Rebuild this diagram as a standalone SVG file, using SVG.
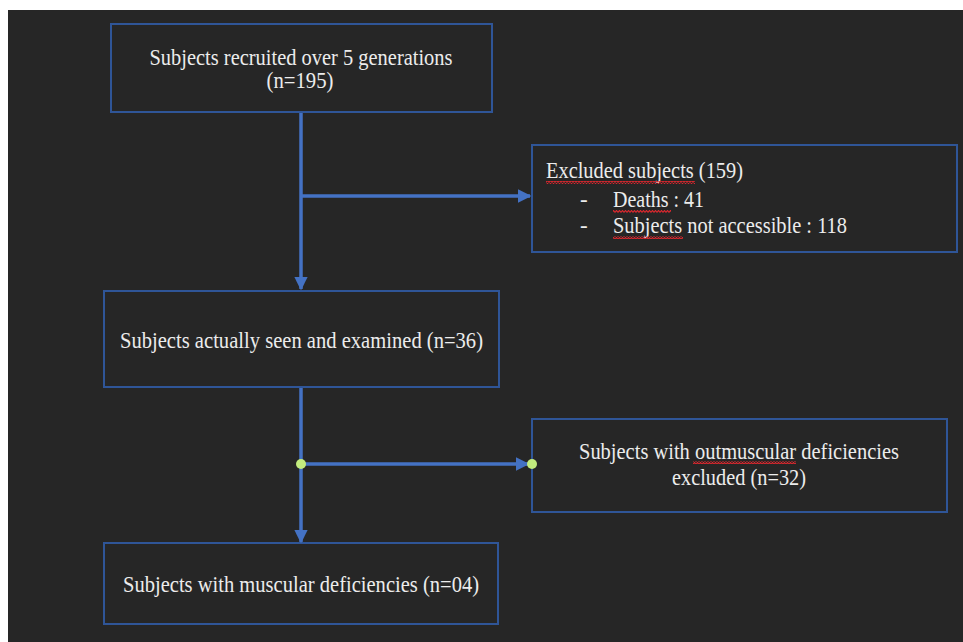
<svg xmlns="http://www.w3.org/2000/svg" width="963" height="642" viewBox="0 0 963 642">
<defs>
<style>
.box{fill:#262626;stroke:#2f5597;stroke-width:2}
.t{font-family:"Liberation Serif","Times New Roman",serif;font-size:23px;fill:#ececec}
.c{text-anchor:middle}
.ln{stroke:#4472c4;stroke-width:3.5;fill:none}
.dot{fill:#c2ec7e}
.wave{fill:url(#wv)}
</style>
<marker id="ah" viewBox="0 0 10 10" refX="9" refY="5" markerWidth="3.8" markerHeight="3.8" orient="auto" markerUnits="strokeWidth">
<path d="M0,0 L10,5 L0,10 Z" fill="#4472c4"/>
</marker>
<pattern id="wv" x="0" y="0" width="3" height="3" patternUnits="userSpaceOnUse">
<path d="M0,2.5 L1.5,0.5 L3,2.5" fill="none" stroke="#e0262d" stroke-width="1.1"/>
</pattern>
</defs>
<rect x="0" y="0" width="963" height="642" fill="#ffffff"/>
<rect x="8" y="10" width="955" height="632" fill="#262626"/>

<g id="n1">
<rect class="box" x="111" y="24" width="381" height="88"/>
<text class="t c" x="301" y="65" textLength="303" lengthAdjust="spacingAndGlyphs">Subjects recruited over 5 generations</text>
<text class="t c" x="300" y="88" textLength="67" lengthAdjust="spacingAndGlyphs">(n=195)</text>
</g>

<g id="n2">
<rect class="box" x="532" y="145" width="425" height="107"/>
<text class="t" x="546" y="178" textLength="197" lengthAdjust="spacingAndGlyphs">Excluded subjects (159)</text>
<text class="t" x="580" y="207">-</text>
<text class="t" x="613" y="207" textLength="91" lengthAdjust="spacingAndGlyphs">Deaths : 41</text>
<text class="t" x="580" y="233">-</text>
<text class="t" x="613" y="233" textLength="234" lengthAdjust="spacingAndGlyphs">Subjects not accessible : 118</text>
<rect class="wave" x="546" y="181" width="149" height="3"/>
<rect class="wave" x="613" y="210" width="58" height="3"/>
<rect class="wave" x="613" y="236" width="70" height="3"/>
</g>

<g id="n3">
<rect class="box" x="104" y="291" width="395" height="96"/>
<text class="t c" x="301.5" y="348" textLength="363" lengthAdjust="spacingAndGlyphs">Subjects actually seen and examined (n=36)</text>
</g>

<g id="n4">
<rect class="box" x="532" y="419" width="415" height="93"/>
<text class="t c" x="739" y="459" textLength="320" lengthAdjust="spacingAndGlyphs">Subjects with outmuscular deficiencies</text>
<text class="t c" x="739" y="485" textLength="134" lengthAdjust="spacingAndGlyphs">excluded (n=32)</text>
<rect class="wave" x="693" y="461" width="103" height="3"/>
</g>

<g id="n5">
<rect class="box" x="104" y="543" width="394" height="81"/>
<text class="t c" x="301" y="592" textLength="356" lengthAdjust="spacingAndGlyphs">Subjects with muscular deficiencies (n=04)</text>
</g>

<g id="connectors">
<path class="ln" d="M301,113 V289" marker-end="url(#ah)"/>
<path class="ln" d="M301,196 H530" marker-end="url(#ah)"/>
<path class="ln" d="M301,388 V542" marker-end="url(#ah)"/>
<path class="ln" d="M301,464 H528" marker-end="url(#ah)"/>
<circle class="dot" cx="301" cy="464" r="5"/>
<circle class="dot" cx="532" cy="464" r="5"/>
</g>
</svg>
